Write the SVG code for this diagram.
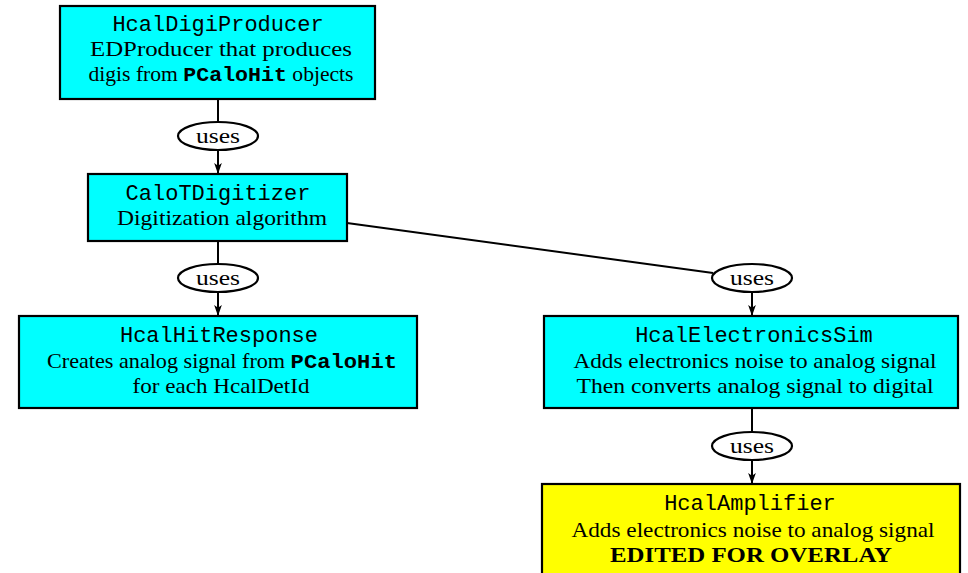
<svg xmlns="http://www.w3.org/2000/svg" width="968" height="573" viewBox="0 0 968 573">
<style>
.box{stroke:#000;stroke-width:2.2}
.cy{fill:#00ffff}
.ye{fill:#ffff00}
.tt{font-family:"Liberation Mono","DejaVu Sans Mono",monospace;font-size:22px;text-anchor:middle;fill:#000}
.rm{font-family:"Liberation Serif","DejaVu Serif",serif;font-size:21px;text-anchor:middle;fill:#000}
.bf{font-family:"Liberation Serif","DejaVu Serif",serif;font-size:22px;font-weight:bold;text-anchor:middle;fill:#000}
.tb{font-family:"Liberation Mono","DejaVu Sans Mono",monospace;font-weight:bold}
.ell{fill:#fff;stroke:#000;stroke-width:2.2}
.edge{fill:none;stroke:#000;stroke-width:2}
</style>
<defs>
<marker id="ah" viewBox="0 0 10 10" refX="10" refY="5" markerWidth="11" markerHeight="11" orient="auto" markerUnits="userSpaceOnUse">
<path d="M0,1.5 L10,5 L0,8.5 L2.5,5 z" fill="#000"/>
</marker>
</defs>
<rect width="968" height="573" fill="#fff"/>
<g id="connectors">
<line class="edge" x1="218" y1="99" x2="218" y2="122"/>
<line class="edge" x1="218" y1="150" x2="218" y2="174" marker-end="url(#ah)"/>
<line class="edge" x1="218" y1="241" x2="218" y2="264"/>
<line class="edge" x1="218" y1="292" x2="218" y2="316" marker-end="url(#ah)"/>
<line class="edge" x1="347" y1="223" x2="713" y2="273"/>
<line class="edge" x1="752" y1="292" x2="752" y2="316" marker-end="url(#ah)"/>
<line class="edge" x1="752" y1="408" x2="752" y2="432"/>
<line class="edge" x1="752" y1="460" x2="752" y2="484" marker-end="url(#ah)"/>
</g>
<g id="uses1"><ellipse class="ell" cx="218" cy="136" rx="40" ry="14"/><text class="rm" x="218" y="143" textLength="44" lengthAdjust="spacingAndGlyphs">uses</text></g>
<g id="uses2"><ellipse class="ell" cx="218" cy="278" rx="40" ry="14"/><text class="rm" x="218" y="285" textLength="44" lengthAdjust="spacingAndGlyphs">uses</text></g>
<g id="uses3"><ellipse class="ell" cx="752" cy="278" rx="40" ry="14"/><text class="rm" x="752" y="285" textLength="44" lengthAdjust="spacingAndGlyphs">uses</text></g>
<g id="uses4"><ellipse class="ell" cx="752" cy="446" rx="40" ry="14"/><text class="rm" x="752" y="453" textLength="44" lengthAdjust="spacingAndGlyphs">uses</text></g>
<g id="HcalDigiProducer">
<rect class="box cy" x="60" y="6" width="315" height="93"/>
<text class="tt" x="218" y="31">HcalDigiProducer</text>
<text class="rm" x="221" y="56" textLength="262" lengthAdjust="spacingAndGlyphs">EDProducer that produces</text>
<text class="rm" x="221" y="81" textLength="265" lengthAdjust="spacingAndGlyphs">digis from <tspan class="tb">PCaloHit</tspan> objects</text>
</g>
<g id="CaloTDigitizer">
<rect class="box cy" x="88" y="174" width="259" height="67"/>
<text class="tt" x="218" y="200">CaloTDigitizer</text>
<text class="rm" x="222" y="225" textLength="210" lengthAdjust="spacingAndGlyphs">Digitization algorithm</text>
</g>
<g id="HcalHitResponse">
<rect class="box cy" x="19" y="316" width="398" height="92"/>
<text class="tt" x="219" y="342">HcalHitResponse</text>
<text class="rm" x="222" y="368" textLength="350" lengthAdjust="spacingAndGlyphs">Creates analog signal from <tspan class="tb">PCaloHit</tspan></text>
<text class="rm" x="221" y="393" textLength="177" lengthAdjust="spacingAndGlyphs">for each HcalDetId</text>
</g>
<g id="HcalElectronicsSim">
<rect class="box cy" x="544" y="316" width="414" height="92"/>
<text class="tt" x="754" y="342">HcalElectronicsSim</text>
<text class="rm" x="755" y="368" textLength="363" lengthAdjust="spacingAndGlyphs">Adds electronics noise to analog signal</text>
<text class="rm" x="755" y="393" textLength="357" lengthAdjust="spacingAndGlyphs">Then converts analog signal to digital</text>
</g>
<g id="HcalAmplifier">
<rect class="box ye" x="542" y="484" width="418" height="100"/>
<text class="tt" x="750" y="510">HcalAmplifier</text>
<text class="rm" x="753" y="537" textLength="363" lengthAdjust="spacingAndGlyphs">Adds electronics noise to analog signal</text>
<text class="bf" x="751" y="562" textLength="282" lengthAdjust="spacingAndGlyphs">EDITED FOR OVERLAY</text>
</g>
</svg>
